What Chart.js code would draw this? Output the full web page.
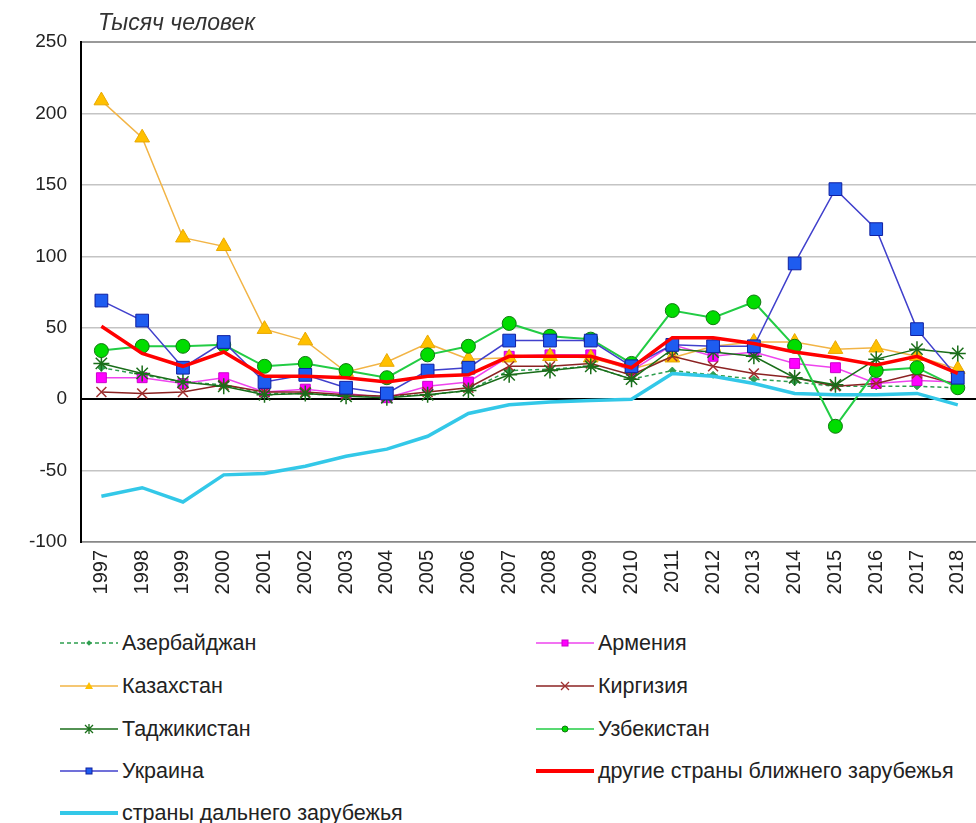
<!DOCTYPE html>
<html><head><meta charset="utf-8">
<script src="https://cdn.jsdelivr.net/npm/chart.js@4.4.1/dist/chart.umd.min.js"></script>
<style>
html,body{margin:0;padding:0;background:#fff;overflow:hidden;width:976px;height:823px;}
#wrap{position:absolute;left:0;top:0;width:990px;height:610px;}
#title{position:absolute;left:98px;top:9px;font:italic 23px "Liberation Sans",Arial,sans-serif;color:#333;}
.leg{position:absolute;font:21.5px "Liberation Sans",Arial,sans-serif;color:#222;white-space:nowrap;display:flex;align-items:center;}
.leg svg{margin-right:4px;}
</style></head><body>
<div id="wrap"><canvas id="c"></canvas></div>
<div id="title">Тысяч человек</div>
<div id="legend"></div>
<script>
const years = ["1997","1998","1999","2000","2001","2002","2003","2004","2005","2006","2007","2008","2009","2010","2011","2012","2013","2014","2015","2016","2017","2018"];
const azerbaijan = [22,17,12,10,4,4,2,2,3,6,20,21,23,14,20,17,14,12,9,9,9,8];
const armenia    = [15,15,11,15,5,7,4,1,9,12,30,31,31,20,38,30,33,25,22,11,13,12];
const kazakhstan = [209,183,113,107,49,41,19,26,39,28,29,30,29,21,29,37,40,40,35,36,30,21];
const kirgizia   = [5,4,5,10,5,5,3,2,5,8,23,23,25,17,30,23,18,15,9,11,18,10];
const tajikistan = [25,18,12,9,3,4,2,1,3,6,17,20,23,14,35,33,30,15,10,28,35,32];
const uzbekistan = [34,37,37,38,23,25,20,15,31,37,53,44,42,25,62,57,68,37,-19,20,22,8];
const ukraine    = [69,55,22,40,12,17,8,4,20,22,41,41,41,23,38,37,37,95,147,119,49,15];
const otherNear  = [51,32,23,33,16,16,15,12,16,17,30,30,30,22,43,43,39,33,29,24,30,18];
const farAbroad  = [-68,-62,-72,-53,-52,-47,-40,-35,-26,-10,-4,-2,-1,0,18,16,11,4,3,3,4,-4];
const yTicks = [250,200,150,100,50,0,-50,-100];

const series = [
  {label:"Азербайджан", data:azerbaijan, borderColor:"#2e9e4f", borderWidth:1.5, borderDash:[4,3], pointStyle:"rectRot", pointRadius:3.5, pointBackgroundColor:"#2e9e4f", pointBorderColor:"#2e9e4f"},
  {label:"Армения", data:armenia, borderColor:"#ee44ee", borderWidth:1.5, pointStyle:"rect", pointRadius:7, pointBackgroundColor:"#ff00ff", pointBorderColor:"#cc00cc"},
  {label:"Казахстан", data:kazakhstan, borderColor:"#f2b445", borderWidth:1.5, pointStyle:"triangle", pointRadius:8.5, pointBackgroundColor:"#ffc000", pointBorderColor:"#e8a800"},
  {label:"Киргизия", data:kirgizia, borderColor:"#8b2222", borderWidth:1.5, pointStyle:"crossRot", pointRadius:7, pointBackgroundColor:"#a03030", pointBorderColor:"#a03030", pointBorderWidth:1.5},
  {label:"Таджикистан", data:tajikistan, borderColor:"#1a6e1a", borderWidth:1.5, pointStyle:"star", pointRadius:8, pointBackgroundColor:"#1a6e1a", pointBorderColor:"#1a6e1a", pointBorderWidth:1.5},
  {label:"Узбекистан", data:uzbekistan, borderColor:"#22cc44", borderWidth:2, pointStyle:"circle", pointRadius:7, pointBackgroundColor:"#00dd00", pointBorderColor:"#117711"},
  {label:"Украина", data:ukraine, borderColor:"#4040cc", borderWidth:1.5, pointStyle:"rect", pointRadius:9, pointBackgroundColor:"#1e5cf0", pointBorderColor:"#1020a0"},
  {label:"другие страны ближнего зарубежья", data:otherNear, borderColor:"#ff0000", borderWidth:3.5, pointRadius:0},
  {label:"страны дальнего зарубежья", data:farAbroad, borderColor:"#33c8e8", borderWidth:3.5, pointRadius:0}
];
const datasets = series.map((s,i)=>Object.assign({fill:false,tension:0,order:series.length-i,pointBorderWidth:s.pointBorderWidth||1,pointHoverRadius:s.pointRadius,clip:false},s));

new Chart(document.getElementById('c'),{
  type:'line',
  data:{labels:years,datasets},
  options:{
    responsive:true,maintainAspectRatio:false,animation:false,
    layout:{padding:{top:42,left:0,right:1,bottom:0}},
    plugins:{legend:{display:false},tooltip:{enabled:false}},
    scales:{
      x:{offset:true,
        grid:{display:false,drawTicks:false},
        border:{color:"#888",width:1.5},
        ticks:{minRotation:90,maxRotation:90,autoSkip:false,padding:8,color:"#222",font:{family:"Liberation Sans",size:20}},
        afterFit(s){s.height=68;}
      },
      y:{min:-100,max:250,
        afterBuildTicks(s){s.ticks=yTicks.map(v=>({value:v}));},
        grid:{drawTicks:false,lineWidth:(c)=>c.tick&&(c.tick.value===0||c.tick.value===250)?2:1.5,
          color:(c)=>{const v=c.tick&&c.tick.value; if(v===0)return "#000"; if(v===250)return "#999"; if(v===-100)return "#888"; return "#c4c4c4";}},
        border:{color:"#000",width:2},
        ticks:{padding:14,color:"#222",font:{family:"Liberation Sans",size:19}},
        afterFit(s){s.width=81;}
      }
    }
  }
});

// HTML legend
const legPos = [
  [60,643],[536,643],[60,686],[536,686],[60,729],[536,729],[60,771],[536,771],[60,813]
];
const leg = document.getElementById('legend');
series.forEach((s,i)=>{
  const [x,y]=legPos[i];
  const d=document.createElement('div'); d.className='leg';
  d.style.left=x+'px'; d.style.top=(y-12)+'px'; d.style.height='24px';
  const w=58, cy=12, cx=29;
  let mk='';
  const fill=s.pointBackgroundColor, st=s.pointBorderColor;
  switch(s.pointStyle){
    case 'rectRot': mk=`<rect x="${cx-2}" y="${cy-2}" width="4" height="4" transform="rotate(45 ${cx} ${cy})" fill="${fill}"/>`;break;
    case 'rect': mk=`<rect x="${cx-3}" y="${cy-3}" width="6" height="6" fill="${fill}" stroke="${st}" stroke-width="1"/>`;break;
    case 'triangle': mk=`<polygon points="${cx},${cy-4} ${cx+4},${cy+3} ${cx-4},${cy+3}" fill="${fill}"/>`;break;
    case 'crossRot': mk=`<path d="M${cx-4} ${cy-4}L${cx+4} ${cy+4}M${cx+4} ${cy-4}L${cx-4} ${cy+4}" stroke="${st}" stroke-width="1.3"/>`;break;
    case 'star': mk=`<path d="M${cx-4} ${cy-4}L${cx+4} ${cy+4}M${cx+4} ${cy-4}L${cx-4} ${cy+4}M${cx} ${cy-5}L${cx} ${cy+5}" stroke="${st}" stroke-width="1.3"/>`;break;
    case 'circle': mk=`<circle cx="${cx}" cy="${cy}" r="3" fill="${fill}" stroke="${st}" stroke-width="1"/>`;break;
  }
  const dash=s.borderDash?`stroke-dasharray="${s.borderDash.join(',')}"`:'';
  const lw = s.borderWidth>3?4:1.5;
  d.innerHTML=`<svg width="${w}" height="24"><line x1="0" y1="${cy}" x2="${w}" y2="${cy}" stroke="${s.borderColor}" stroke-width="${lw}" ${dash}/>${mk}</svg><span>${s.label}</span>`;
  leg.appendChild(d);
});
</script>
</body></html>
